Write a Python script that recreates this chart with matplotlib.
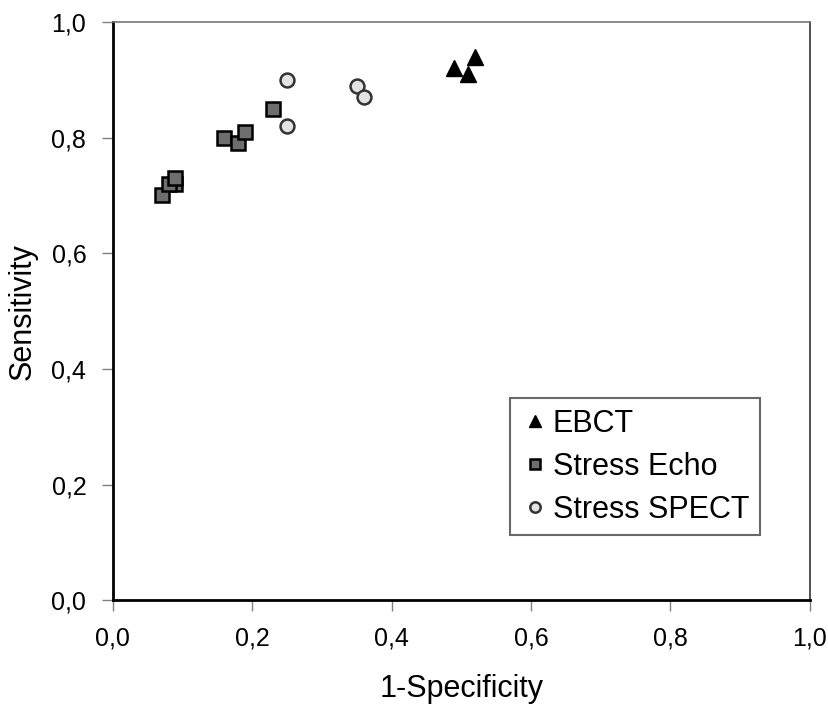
import matplotlib
matplotlib.use('agg')
import matplotlib.pyplot as plt
from matplotlib.ticker import FuncFormatter, MultipleLocator

plt.rcParams['font.family'] = ['Liberation Sans', 'DejaVu Sans']

# точки (1-специфичность, чувствительность) для каждого метода
ebct_x = [0.49, 0.51, 0.52]
ebct_y = [0.92, 0.91, 0.94]

echo_x = [0.09, 0.07, 0.08, 0.09, 0.16, 0.18, 0.19, 0.23]
echo_y = [0.72, 0.70, 0.72, 0.73, 0.80, 0.79, 0.81, 0.85]

spect_x = [0.25, 0.25, 0.35, 0.36]
spect_y = [0.90, 0.82, 0.89, 0.87]

fig = plt.figure(figsize=(8.29, 7.07), dpi=100)
ax = fig.add_axes([0.136, 0.151, 0.841, 0.818])

ax.plot(ebct_x, ebct_y, linestyle='none', marker='^', markersize=11,
        color='black', markeredgecolor='black', label='EBCT')
ax.plot(echo_x, echo_y, linestyle='none', marker='s', markersize=10,
        markerfacecolor='#6e6e6e', markeredgecolor='black', markeredgewidth=1.8,
        label='Stress Echo')
ax.plot(spect_x, spect_y, linestyle='none', marker='o', markersize=10,
        markerfacecolor='#e3e3e3', markeredgecolor='#333333', markeredgewidth=1.8,
        label='Stress SPECT')

ax.set_xlim(0, 1)
ax.set_ylim(0, 1)
ax.xaxis.set_major_locator(MultipleLocator(0.2))
ax.yaxis.set_major_locator(MultipleLocator(0.2))
# десятичная запятая вместо точки
comma = FuncFormatter(lambda v, pos: f"{v:.1f}".replace('.', ','))
ax.xaxis.set_major_formatter(comma)
ax.yaxis.set_major_formatter(comma)

# рамка области построения: оси толстые чёрные, верх и право тонкие
ax.spines['left'].set_linewidth(2)
ax.spines['bottom'].set_linewidth(2)
ax.spines['top'].set_linewidth(1.2)
ax.spines['top'].set_color('#777777')
ax.spines['right'].set_linewidth(1.2)
ax.spines['right'].set_color('#333333')
ax.tick_params(direction='out', length=8, width=1, colors='#808080',
               labelcolor='black', labelsize=18, pad=11)

ax.set_xlabel('1-Specificity', fontsize=22, labelpad=17)
ax.set_ylabel('Sensitivity', fontsize=22, labelpad=10)

leg = ax.legend(loc='upper left', bbox_to_anchor=(0.570, 0.349), fontsize=22,
                frameon=True, fancybox=False, handletextpad=0.15,
                handlelength=0.9, borderpad=0.35, labelspacing=0.42,
                borderaxespad=0, markerscale=0.75)
leg.get_frame().set_edgecolor('#444444')
leg.get_frame().set_linewidth(1.5)

plt.savefig('out.png', dpi=100)
